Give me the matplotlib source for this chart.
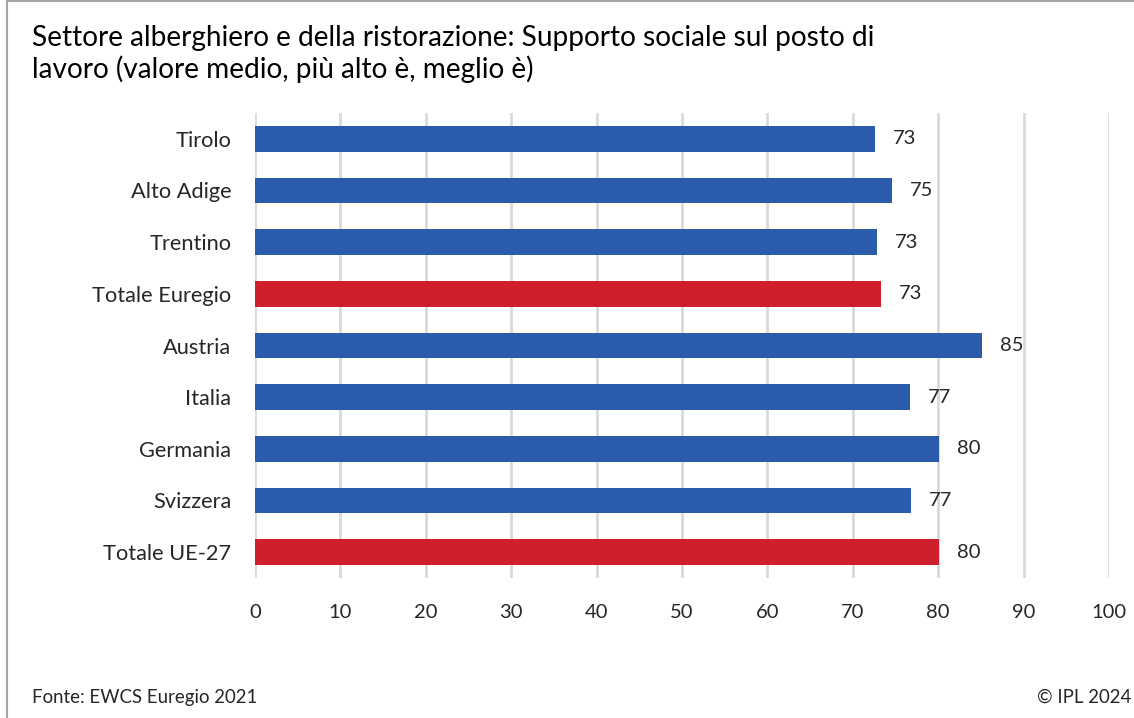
import matplotlib
matplotlib.use("Agg")
import matplotlib.pyplot as plt
from matplotlib.patches import Rectangle

plt.rcParams["font.family"] = ["Lato", "DejaVu Sans"]

categories = ["Tirolo", "Alto Adige", "Trentino", "Totale Euregio", "Austria",
              "Italia", "Germania", "Svizzera", "Totale UE-27"]
values = [72.6, 74.6, 72.8, 73.3, 85.1, 76.7, 80.1, 76.8, 80.1]
is_total = [False, False, False, True, False, False, False, False, True]
xticks = [0, 10, 20, 30, 40, 50, 60, 70, 80, 90, 100]

BLUE = "#2B5CAB"
RED = "#CE1F2A"
GRID = "#D9D9D9"
TEXT = "#262626"

fig = plt.figure(figsize=(11.34, 7.18), dpi=100)
ax = fig.add_axes([255 / 1134, 1 - 578 / 718, 854 / 1134, 465 / 718])

colors = [RED if t else BLUE for t in is_total]
ypos = list(range(len(categories)))
ax.barh(ypos, values, height=0.5, color=colors, zorder=3)

for y, v in zip(ypos, values):
    ax.text(v + 2.1, y, f"{v:.0f}", va="center", ha="left", fontsize=14.5, color=TEXT)

ax.set_xlim(0, 100)
ax.set_ylim(len(categories) - 0.5, -0.5)
ax.set_yticks(ypos)
ax.set_yticklabels(categories, fontsize=15.7, color=TEXT)
ax.set_xticks(xticks)
ax.set_xticklabels([str(t) for t in xticks], fontsize=14.5, color=TEXT)
ax.tick_params(axis="y", length=0, pad=17)
ax.tick_params(axis="x", length=0, pad=19)
ax.grid(axis="x", color=GRID, linewidth=2, zorder=0)
for s in ax.spines.values():
    s.set_visible(False)

fig.text(32 / 1134, 1 - 54 / 718, "Settore alberghiero e della ristorazione: Supporto sociale sul posto di\n"
         "lavoro (valore medio, più alto è, meglio è)", fontsize=20.2, color="black",
         va="center", ha="left", linespacing=1.2)
fig.text(32 / 1134, 1 - 697 / 718, "Fonte: EWCS Euregio 2021", fontsize=13.4, color=TEXT,
         va="center", ha="left")
fig.text(1131 / 1134, 1 - 697 / 718, "© IPL 2024", fontsize=13.4, color=TEXT,
         va="center", ha="right")

# thin grey frame around the chart
fig.patches.append(Rectangle((7 / 1134, -0.01), 1.2, 1 - 1 / 718 + 0.01, transform=fig.transFigure,
                             fill=False, edgecolor="#A6A6A6", linewidth=1.5))

fig.savefig("out.png", dpi=100)
